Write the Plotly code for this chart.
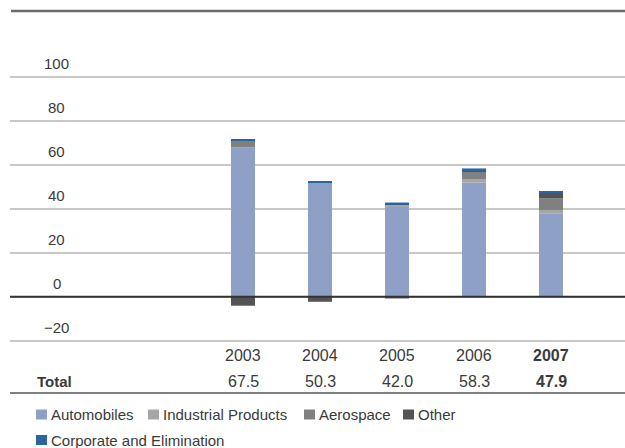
import plotly.graph_objects as go

years = [2003, 2004, 2005, 2006, 2007]
year_labels = ["2003", "2004", "2005", "2006", "<b>2007</b>"]
total_labels = ["67.5", "50.3", "42.0", "58.3", "<b>47.9</b>"]

automobiles = [67.8, 52.1, 41.0, 51.8, 37.7]
industrial = [0.3, 0.0, 0.9, 1.7, 1.7]
aerospace = [3.0, 0.0, 0.0, 3.3, 5.4]
other = [-4.1, -2.3, -0.8, 0.7, 2.7]
corporate = [0.5, 0.5, 0.9, 0.8, 0.4]

y_ticks = [100, 80, 60, 40, 20, 0, -20]
y_tick_text = ["100", "80", "60", "40", "20", "0", "\u221220"]

series = [
    ("Automobiles", automobiles, "#8FA0C6"),
    ("Industrial Products", industrial, "#A6A6A6"),
    ("Aerospace", aerospace, "#808080"),
    ("Other", other, "#545454"),
    ("Corporate and Elimination", corporate, "#2B65A0"),
]

FONT = "Liberation Sans, Arial, sans-serif"
TXT = "#3a3a3a"

W, H = 625, 448
ML, MR, MT, MB = 10, 0, 11, 106
PW = W - ML - MR
PH = H - MT - MB

fig = go.Figure()
for name, vals, col in series:
    fig.add_trace(go.Bar(
        x=years, y=vals, name=name, width=0.312,
        marker=dict(color=col, line=dict(width=0)),
        showlegend=False,
    ))

def px_x(p):
    return (p - ML) / PW

def px_y(p):
    return (H - MB - p) / PH

ann = []
# y tick labels above gridlines
for v, t in zip(y_ticks, y_tick_text):
    ann.append(dict(x=px_x(57), xref="paper", y=v, yref="y", text=t,
                    showarrow=False, xanchor="center", yanchor="middle",
                    yshift=13, font=dict(size=15, color=TXT, family=FONT)))

# table rows
for yr, yl, tl in zip(years, year_labels, total_labels):
    ann.append(dict(x=yr, xref="x", y=px_y(355), yref="paper", text=yl,
                    showarrow=False, xanchor="center", yanchor="middle",
                    font=dict(size=16, color=TXT, family=FONT)))
    ann.append(dict(x=yr, xref="x", y=px_y(381.5), yref="paper", text=tl,
                    showarrow=False, xanchor="center", yanchor="middle",
                    font=dict(size=16, color=TXT, family=FONT)))
ann.append(dict(x=px_x(35), xref="paper", y=px_y(381.5), yref="paper", text="<b>Total</b>",
                showarrow=False, xanchor="left", yanchor="middle",
                font=dict(size=15, color=TXT, family=FONT)))

# legend (manual)
legend_pos = [(36, 414.5), (148, 414.5), (304, 414.5), (403, 414.5), (36, 440)]
shapes = []
for (name, vals, col), (lx, ly) in zip(series, legend_pos):
    shapes.append(dict(type="rect", xref="paper", yref="paper",
                       x0=px_x(lx), x1=px_x(lx + 11), y0=px_y(ly - 5), y1=px_y(ly + 5),
                       fillcolor=col, line=dict(width=0)))
    ann.append(dict(x=px_x(lx + 13), xref="paper", y=px_y(ly), yref="paper", text=name,
                    showarrow=False, xanchor="left", yanchor="middle",
                    font=dict(size=15, color=TXT, family=FONT)))

# top rule
shapes.append(dict(type="line", xref="paper", yref="paper", x0=px_x(11), x1=1, y0=1, y1=1,
                   line=dict(color="#6B6B6B", width=2.5)))
# zero line above bars
shapes.append(dict(type="line", xref="paper", yref="y", x0=0, x1=1, y0=0, y1=0,
                   layer="above", line=dict(color="#333333", width=2)))
# table bottom rule
shapes.append(dict(type="line", xref="paper", yref="paper", x0=0, x1=1,
                   y0=px_y(393), y1=px_y(393), line=dict(color="#555555", width=1.5)))

px_per_unit = 2.2
zero_px = 296.7
y_top = (zero_px - MT) / px_per_unit
y_bot = -((H - MB) - zero_px) / px_per_unit

fig.update_layout(
    width=W, height=H,
    margin=dict(l=ML, r=MR, t=MT, b=MB, pad=0),
    barmode="relative",
    plot_bgcolor="white", paper_bgcolor="white",
    xaxis=dict(range=[1999.974, 2007.961], showgrid=False, showticklabels=False,
               zeroline=False, showline=False, ticks=""),
    yaxis=dict(range=[y_bot, y_top], tickvals=y_ticks, showticklabels=False,
               showgrid=True, gridcolor="#C8C8C8", gridwidth=1.5,
               zeroline=False, showline=False, ticks=""),
    annotations=ann,
    shapes=shapes,
    font=dict(family=FONT, color=TXT),
)

fig.write_html("out.html")
